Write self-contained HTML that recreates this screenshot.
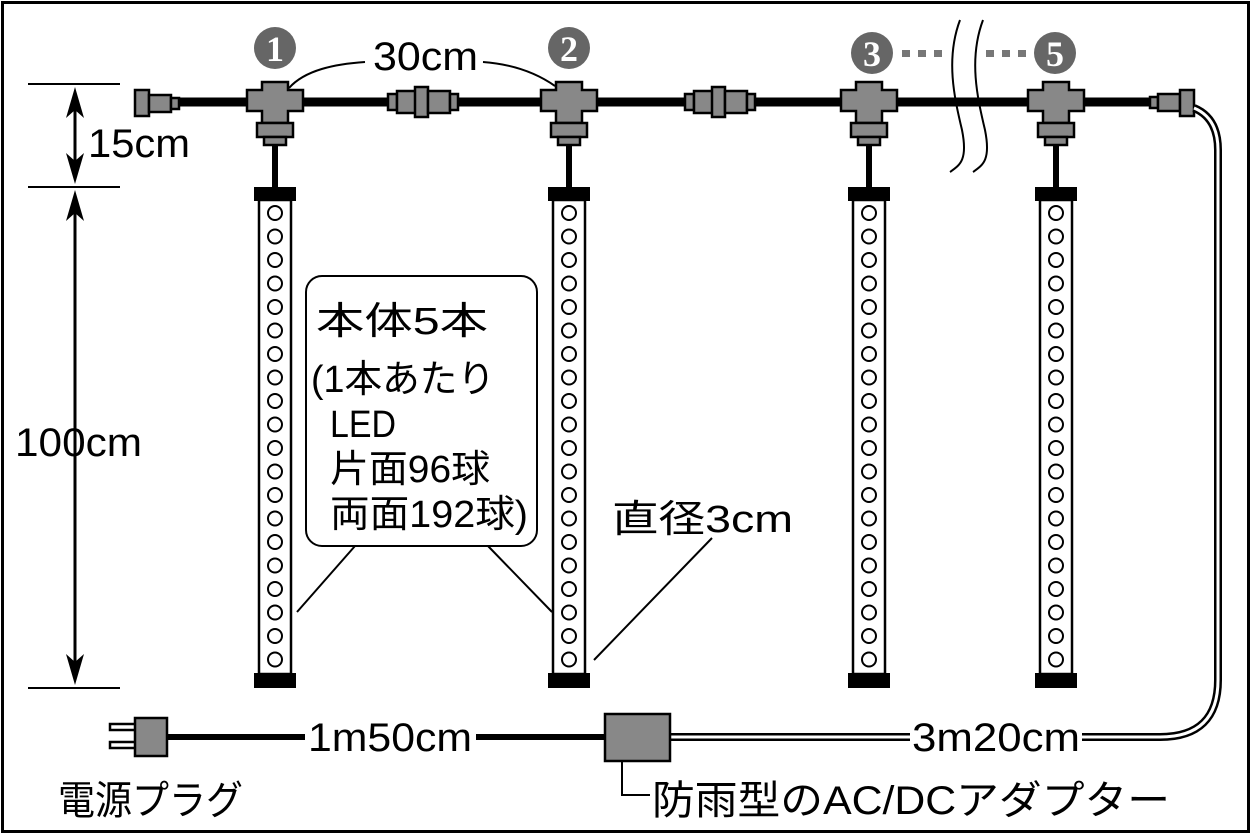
<!DOCTYPE html>
<html><head><meta charset="utf-8"><style>
html,body{margin:0;padding:0;background:#fff}
svg{display:block}
text{font-family:"Liberation Sans","Noto Sans CJK JP",sans-serif;fill:#000}
</style></head><body>
<svg width="1254" height="835" viewBox="0 0 1254 835" xmlns="http://www.w3.org/2000/svg">
<defs>
<g id="tee" stroke="#000" stroke-width="2.5" fill="#888">
  <path d="M-13,-18 H13 V-10 H28 V11 H13 V23 H-13 V11 H-28 V-10 H-13 Z"/>
  <rect x="-18" y="23" width="36" height="14"/>
  <rect x="-11" y="37" width="22" height="8"/>
</g>
<g id="conn" stroke="#000" stroke-width="2.5" fill="#888">
  <rect x="-33" y="-8" width="9" height="16"/>
  <rect x="-24" y="-11" width="22" height="22"/>
  <rect x="-6" y="-15" width="13" height="30"/>
  <rect x="7" y="-11" width="22" height="22"/>
  <rect x="29" y="-8" width="8" height="16"/>
</g>
<g id="tube">
  <rect x="-21" y="187" width="42" height="14" fill="#000"/>
  <rect x="-16" y="200" width="32" height="474" fill="#fff" stroke="#000" stroke-width="2.5"/>
  <rect x="-21" y="673" width="42" height="15" fill="#000"/>
  <g fill="none" stroke="#000" stroke-width="2">
    <circle cx="0" cy="213" r="7"/><circle cx="0" cy="236.5" r="7"/><circle cx="0" cy="260" r="7"/><circle cx="0" cy="283.5" r="7"/><circle cx="0" cy="307" r="7"/><circle cx="0" cy="330.5" r="7"/><circle cx="0" cy="354" r="7"/><circle cx="0" cy="377.5" r="7"/><circle cx="0" cy="401" r="7"/><circle cx="0" cy="424.5" r="7"/><circle cx="0" cy="448" r="7"/><circle cx="0" cy="471.5" r="7"/><circle cx="0" cy="495" r="7"/><circle cx="0" cy="518.5" r="7"/><circle cx="0" cy="542" r="7"/><circle cx="0" cy="565.5" r="7"/><circle cx="0" cy="589" r="7"/><circle cx="0" cy="612.5" r="7"/><circle cx="0" cy="636" r="7"/><circle cx="0" cy="659.5" r="7"/>
  </g>
</g>
</defs>
<rect x="2.5" y="2.5" width="1246" height="829" fill="none" stroke="#000" stroke-width="3"/>

<line x1="175" y1="102" x2="1152" y2="102" stroke="#000" stroke-width="9"/>

<g stroke="#000" stroke-width="6">
<line x1="275" y1="140" x2="275" y2="190"/><line x1="569" y1="140" x2="569" y2="190"/>
<line x1="869" y1="140" x2="869" y2="190"/><line x1="1056" y1="140" x2="1056" y2="190"/>
</g>
<use href="#tube" x="275"/><use href="#tube" x="569"/><use href="#tube" x="869"/><use href="#tube" x="1056"/>
<use href="#tee" x="275" y="100"/><use href="#tee" x="569" y="100"/><use href="#tee" x="869" y="100"/><use href="#tee" x="1056" y="100"/>
<use href="#conn" x="421" y="102"/><use href="#conn" x="718" y="102"/>

<g stroke="#000" stroke-width="2.5" fill="#888">
<rect x="135" y="90" width="14" height="26"/><rect x="149" y="95" width="22" height="17"/><rect x="171" y="98" width="8" height="11"/>
</g>
<g stroke="#000" stroke-width="2.5" fill="#888">
<rect x="1150" y="97" width="8" height="11"/><rect x="1158" y="94" width="22" height="17"/><rect x="1180" y="90" width="14" height="26"/>
</g>

<path d="M960,20 C945,60 955,100 962,130 C968,160 960,165 950,172" fill="none" stroke="#000" stroke-width="2"/>
<path d="M983,20 C968,60 978,100 985,130 C991,160 983,165 973,172" fill="none" stroke="#000" stroke-width="2"/>

<g fill="#666"><circle cx="275" cy="48" r="21"/><circle cx="569" cy="48" r="21"/><circle cx="872" cy="53" r="21"/><circle cx="1055" cy="53" r="21"/></g>
<g font-weight="bold" font-size="36" text-anchor="middle">
<text x="275" y="61" style="fill:#fff;font-family:'Liberation Serif',serif">1</text>
<text x="569" y="61" style="fill:#fff;font-family:'Liberation Serif',serif">2</text>
<text x="872" y="66" style="fill:#fff;font-family:'Liberation Serif',serif">3</text>
<text x="1055" y="66" style="fill:#fff;font-family:'Liberation Serif',serif">5</text>
</g>
<g fill="#777"><rect x="902" y="50" width="8" height="7"/><rect x="918" y="50" width="8" height="7"/><rect x="934" y="50" width="8" height="7"/>
<rect x="986" y="50" width="8" height="7"/><rect x="1002" y="50" width="8" height="7"/><rect x="1018" y="50" width="8" height="7"/></g>

<path d="M289,88 C305,70 335,64 365,62" fill="none" stroke="#000" stroke-width="2"/>
<path d="M483,62 C510,64 535,72 555,86" fill="none" stroke="#000" stroke-width="2"/>
<text x="373" y="70" font-size="40" textLength="105" lengthAdjust="spacingAndGlyphs">30cm</text>

<g stroke="#000" stroke-width="2">
<line x1="28" y1="84" x2="120" y2="84"/><line x1="28" y1="187" x2="120" y2="187"/><line x1="28" y1="688" x2="120" y2="688"/>
</g>
<g stroke="#000" stroke-width="3"><line x1="75" y1="100" x2="75" y2="170"/><line x1="75" y1="203" x2="75" y2="672"/></g>
<g fill="#000">
<path d="M75,87 L66,118 L75,110 L84,118 Z"/><path d="M75,184 L66,153 L75,161 L84,153 Z"/>
<path d="M75,190 L66,221 L75,213 L84,221 Z"/><path d="M75,685 L66,654 L75,662 L84,654 Z"/>
</g>
<text x="88" y="157" font-size="40" textLength="102" lengthAdjust="spacingAndGlyphs">15cm</text>
<text x="15" y="456" font-size="40" textLength="127" lengthAdjust="spacingAndGlyphs">100cm</text>

<rect x="306" y="276" width="231" height="270" rx="16" fill="#fff" stroke="#000" stroke-width="2"/>
<g font-size="38">
<text x="316" y="334" textLength="172" lengthAdjust="spacingAndGlyphs">本体5本</text>
<text x="311" y="392" textLength="184" lengthAdjust="spacingAndGlyphs">(1本あたり</text>
<text x="330" y="437" textLength="66" lengthAdjust="spacingAndGlyphs">LED</text>
<text x="330" y="482" textLength="160" lengthAdjust="spacingAndGlyphs">片面96球</text>
<text x="330" y="527" textLength="198" lengthAdjust="spacingAndGlyphs">両面192球)</text>
</g>
<g stroke="#000" stroke-width="2">
<line x1="355" y1="546" x2="297" y2="612"/><line x1="488" y1="546" x2="552" y2="612"/>
<line x1="712" y1="538" x2="594" y2="660"/>
</g>
<text x="612" y="532" font-size="38" textLength="181" lengthAdjust="spacingAndGlyphs">直径3cm</text>

<g stroke="#000" stroke-width="2.5" fill="#fff">
<rect x="110" y="724" width="26" height="6"/><rect x="110" y="742" width="26" height="6"/>
</g>
<rect x="135" y="718" width="32" height="38" fill="#888" stroke="#000" stroke-width="2.5"/>
<line x1="167" y1="737" x2="305" y2="737" stroke="#000" stroke-width="6"/>
<line x1="476" y1="737" x2="606" y2="737" stroke="#000" stroke-width="6"/>
<text x="308" y="751" font-size="40" textLength="164" lengthAdjust="spacingAndGlyphs">1m50cm</text>

<path d="M670,737 H910 M1082,737 H1160 Q1218,737 1218,680 V150 Q1218,118 1194,108" fill="none" stroke="#000" stroke-width="8"/>
<path d="M670,737 H910 M1082,737 H1160 Q1218,737 1218,680 V150 Q1218,118 1194,108" fill="none" stroke="#fff" stroke-width="3"/>
<text x="912" y="751" font-size="40" textLength="168" lengthAdjust="spacingAndGlyphs">3m20cm</text>

<rect x="605" y="714" width="65" height="47" fill="#888" stroke="#000" stroke-width="2.5"/>
<path d="M622,761 V795 H650" fill="none" stroke="#000" stroke-width="2"/>
<text x="652" y="814" font-size="40" textLength="518" lengthAdjust="spacingAndGlyphs">防雨型のAC/DCアダプター</text>
<text x="58" y="814" font-size="40" textLength="185" lengthAdjust="spacingAndGlyphs">電源プラグ</text>
</svg>
</body></html>
